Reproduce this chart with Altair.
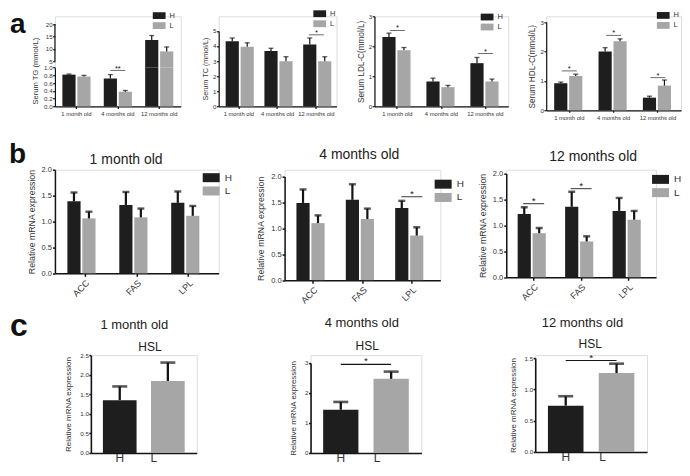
import altair as alt
import pandas as pd

FONT = "Liberation Sans"
H_COLOR = "#1e1e1e"
L_COLOR = "#a6a6a6"
INK = "#141414"
TXT = "#333333"
RECT_A = "M-1.6,-0.85L1.6,-0.85L1.6,0.85L-1.6,0.85Z"
RECT_B = "M-1.7,-0.9L1.7,-0.9L1.7,0.9L-1.7,0.9Z"

groups = ["H", "L"]
ages = ["1 month old", "4 months old", "12 months old"]
genes = ["ACC", "FAS", "LPL"]
letters = ["a", "b", "c"]
panel_titles = ["1 month old", "4 months old", "12 months old"]
hsl_label = ["HSL"]
tg_title = ["Serum TG (mmol/L)"]

# ---------------- a: serum lipids (mean, SEM) ----------------
tg_h = [0.82, 0.72, 13.6]
tg_h_sem = [0.015, 0.10, 1.8]
tg_l = [0.77, 0.38, 9.0]
tg_l_sem = [0.03, 0.03, 1.8]
tg_low_ticks = [0, 0.2, 0.4, 0.6, 0.8, 1.0]
tg_top_ticks = [5, 10, 15, 20]
tg_sig_cat = ["4 months old"]
tg_sig_y = [0.93]
tg_sig_txt = ["**"]

tc_h = [4.31, 3.67, 4.10]
tc_h_sem = [0.22, 0.18, 0.43]
tc_l = [3.95, 2.99, 2.99]
tc_l_sem = [0.26, 0.30, 0.30]
tc_sig_cat = ["12 months old"]
tc_sig_y = [4.74]
tc_sig_txt = ["*"]

ldl_h = [2.31, 0.83, 1.44]
ldl_h_sem = [0.13, 0.11, 0.19]
ldl_l = [1.87, 0.64, 0.83]
ldl_l_sem = [0.09, 0.06, 0.08]
ldl_sig_cat = ["1 month old", "12 months old"]
ldl_sig_y = [2.53, 1.76]
ldl_sig_txt = ["*", "*"]

hdl_h = [0.92, 2.00, 0.43]
hdl_h_sem = [0.04, 0.13, 0.05]
hdl_l = [1.17, 2.35, 0.84]
hdl_l_sem = [0.06, 0.08, 0.19]
hdl_sig_cat = ["1 month old", "4 months old", "12 months old"]
hdl_sig_y = [1.34, 2.55, 1.11]
hdl_sig_txt = ["*", "*", "*"]

# ---------------- b: relative mRNA expression ----------------
m1_h = [1.39, 1.32, 1.36]
m1_h_sem = [0.17, 0.25, 0.22]
m1_l = [1.06, 1.08, 1.11]
m1_l_sem = [0.13, 0.17, 0.19]

m4_h = [1.49, 1.55, 1.39]
m4_h_sem = [0.26, 0.30, 0.14]
m4_l = [1.10, 1.18, 0.86]
m4_l_sem = [0.15, 0.20, 0.16]
m4_sig_cat = ["LPL"]
m4_sig_y = [1.61]

m12_h = [1.22, 1.36, 1.28]
m12_h_sem = [0.13, 0.29, 0.25]
m12_l = [0.85, 0.69, 1.11]
m12_l_sem = [0.10, 0.10, 0.17]
m12_sig_cat = ["ACC", "FAS"]
m12_sig_y = [1.42, 1.71]

b_ticks = [0, 0.5, 1.0, 1.5, 2.0]

# ---------------- c: HSL ----------------
hsl1_mean = [1.35, 1.84]
hsl1_sem = [0.35, 0.47]
hsl4_mean = [1.44, 2.47]
hsl4_sem = [0.26, 0.24]
hsl4_sig = [2.95]
hsl12_mean = [0.74, 1.26]
hsl12_sem = [0.15, 0.15]
hsl12_sig = [1.46]

STY_A = dict(pi=0.32, po=0.18, opi=0.12, ylab=6.2, ytitle=7.6, ylabpad=0.5, ytick=2.3, titlepad=3,
             xlab=5.8, xangle=0, xtick=2, xlabpad=2, dom=1.2, errw=1.2, capw=5, capt=1.3,
             sigw=15, sigt=0.9, sigfs=7.5, sigdy=0, legfs=7.5, legsize=64, legrow=2, legoff=6.4,
             legpath=RECT_A)
STY_B = dict(pi=0.325, po=0.24, opi=0.2, ylab=7.5, ytitle=8.8, ylabpad=1, ytick=2.5, titlepad=5,
             xlab=9, xangle=-45, xtick=3, xlabpad=2, dom=1.5, errw=2.2, capw=7, capt=2.4,
             sigw=21, sigt=1.2, sigfs=10, sigdy=0, legfs=10, legsize=100, legrow=3.3, legoff=8.5,
             legpath=RECT_B)
STY_C = dict(pi=0.3, po=0.25, opi=0.1, ylab=6.2, ytitle=8, ylabpad=0.5, ytick=2, titlepad=7,
             xlab=12, xangle=0, xtick=0, xlabpad=0, dom=1.6, errw=2.3, capw=15, capt=2.6,
             sigw=0, sigt=1.2, sigfs=10, sigdy=0, legfs=10, legsize=100, legrow=0, legoff=5,
             legpath=RECT_B,
             xlaboff={"condition": {"test": "datum.value === 'L'", "value": -14}, "value": 0})


def make_df(cats, h, hs, l, ls):
    d = pd.DataFrame({
        "cat": list(cats) + list(cats),
        "grp": ["H"] * len(cats) + ["L"] * len(cats),
        "mean": list(h) + list(l),
        "sem": list(hs) + list(ls),
    })
    d["upper"] = d["mean"] + d["sem"]
    return d


def sig_frame(cats, levels, labels):
    return pd.DataFrame({"cat": cats, "level": levels, "label": labels})


def color_enc(st, leg):
    sc = alt.Scale(domain=groups, range=[H_COLOR, L_COLOR])
    if leg is None:
        return alt.Color("grp:N", scale=sc, legend=None)
    return alt.Color("grp:N", scale=sc, legend=alt.Legend(
        title=None, orient="none", legendX=leg[0], legendY=leg[1], symbolType=st["legpath"],
        symbolSize=st["legsize"], symbolStrokeWidth=0, symbolOpacity=1,
        labelFontSize=st["legfs"], labelFont=FONT, labelColor=TXT, labelOffset=st["legoff"],
        rowPadding=st["legrow"], padding=0))


def x_enc(field, cats, st):
    ax = dict(title=None, labelAngle=st["xangle"], labelFontSize=st["xlab"], labelFont=FONT,
              labelColor=TXT, ticks=st["xtick"] > 0, tickSize=st["xtick"], tickColor=INK,
              tickWidth=st["dom"], domainColor=INK, domainWidth=st["dom"],
              labelPadding=st["xlabpad"], grid=False)
    if "xlaboff" in st:
        ax["labelOffset"] = st["xlaboff"]
    return alt.X(f"{field}:N", scale=alt.Scale(domain=cats, paddingInner=st["pi"], paddingOuter=st["po"]),
                 axis=alt.Axis(**ax))


def y_enc(field, dom, rng, vals, fmt, title, st, clamp=False, domain_line=True, tsize=None):
    ax = dict(values=vals, format=fmt, title=title, orient="left", grid=False, labelOverlap=False,
              labelFont=FONT, titleFont=FONT, labelFontSize=st["ylab"], titleFontSize=tsize or st["ytitle"],
              titleFontWeight="normal", labelColor=TXT, titleColor=TXT,
              tickSize=st["ytick"], tickWidth=st["dom"], tickColor=INK,
              domain=domain_line, domainColor=INK, domainWidth=st["dom"],
              labelPadding=st["ylabpad"], titlePadding=st["titlepad"])
    return alt.Y(f"{field}:Q", scale=alt.Scale(domain=dom, range=rng, nice=False, zero=False, clamp=clamp),
                 axis=alt.Axis(**ax))


def letter_layer(i, x, y, size):
    return alt.Chart(pd.DataFrame({"t": [letters[i]]})).mark_text(
        fontSize=size, fontWeight="bold", font=FONT, align="left", baseline="alphabetic", color="#111111"
    ).encode(x=alt.value(x), y=alt.value(y), text="t:N")


def title_params(text, fs, offset, dx):
    return alt.TitleParams(text=text, fontSize=fs, font=FONT, fontWeight="normal", color="#222222",
                           anchor="middle", frame="group", offset=offset, dx=dx)


def grouped_panel(df, cats, st, w, h, ydom, yrng, yvals, yfmt, ytitle, leg, sig=None, tsize=None,
                  extra=None, title=None):
    xe = x_enc("cat", cats, st)
    xo = alt.XOffset("grp:N", scale=alt.Scale(domain=groups, paddingInner=st["opi"]))

    def ye(f):
        return y_enc(f, ydom, yrng, yvals, yfmt, ytitle, st, tsize=tsize)

    base = alt.Chart(df)
    layers = [
        base.mark_bar().encode(x=xe, xOffset=xo, y=ye("mean"), color=color_enc(st, leg)),
        base.mark_rule(color=INK, strokeWidth=st["errw"]).encode(x=xe, xOffset=xo, y=ye("mean"), y2="upper:Q"),
        base.mark_tick(color=INK, thickness=st["capt"], size=st["capw"], orient="horizontal").encode(
            x=xe, xOffset=xo, y=ye("upper")),
    ]
    if sig is not None:
        sd = sig_frame(*sig)
        layers.append(alt.Chart(sd).mark_tick(color=INK, thickness=st["sigt"], size=st["sigw"],
                                              orient="horizontal").encode(x=xe, y=ye("level")))
        layers.append(alt.Chart(sd).mark_text(color=INK, fontSize=st["sigfs"], font=FONT, baseline="alphabetic",
                                              dy=st["sigdy"]).encode(x=xe, y=ye("level"), text="label:N"))
    if extra:
        layers += extra
    ch = alt.layer(*layers).properties(width=w, height=h)
    if title is not None:
        ch = ch.properties(title=title)
    return ch


def hsl_panel(mean, sem, st, w, h, ydom, yrng, yvals, yfmt, title, hsl_xy, sig=None, extra=None):
    df = pd.DataFrame({"grp": groups, "mean": mean, "sem": sem})
    df["upper"] = df["mean"] + df["sem"]
    xe = x_enc("grp", groups, st)

    def ye(f):
        return y_enc(f, ydom, yrng, yvals, yfmt, "Relative mRNA expression", st)

    base = alt.Chart(df)
    layers = [
        base.mark_bar().encode(x=xe, y=ye("mean"), color=color_enc(st, None)),
        base.mark_rule(color=INK, strokeWidth=st["errw"]).encode(x=xe, y=ye("mean"), y2="upper:Q"),
        base.mark_tick(color=INK, thickness=st["capt"], size=st["capw"], orient="horizontal").encode(
            x=xe, y=ye("upper")),
        alt.Chart(pd.DataFrame({"t": hsl_label})).mark_text(
            fontSize=12, font=FONT, color="#222222", align="center", baseline="alphabetic"
        ).encode(x=alt.value(hsl_xy[0]), y=alt.value(hsl_xy[1]), text="t:N"),
    ]
    if sig is not None:
        sd = pd.DataFrame({"a": [groups[0]], "b": [groups[1]], "level": sig, "label": ["*"]})
        step = w / (2 - st["pi"] + 2 * st["po"])
        xs = alt.X("a:N", scale=alt.Scale(domain=groups, paddingInner=st["pi"], paddingOuter=st["po"]))
        layers.append(alt.Chart(sd).mark_rule(color=INK, strokeWidth=st["sigt"]).encode(
            x=xs, x2="b:N", y=ye("level")))
        layers.append(alt.Chart(sd).mark_text(color=INK, fontSize=st["sigfs"], font=FONT, baseline="alphabetic",
                                              dx=step / 2, dy=st["sigdy"]).encode(
            x=xs, y=ye("level"), text="label:N"))
    if extra:
        layers += extra
    return alt.layer(*layers).properties(width=w, height=h, title=title)


# ---------------- row a ----------------
A_H = 90.2
tg = make_df(ages, tg_h, tg_h_sem, tg_l, tg_l_sem)
xe_a = x_enc("cat", ages, STY_A)
xo_a = alt.XOffset("grp:N", scale=alt.Scale(domain=groups, paddingInner=STY_A["opi"]))
col_a1 = color_enc(STY_A, (100.4, -4.7))


def low_y(f):
    return y_enc(f, [0, 1], [A_H, 51.4], tg_low_ticks, ".1f", None, STY_A, clamp=True)


def top_y(f):
    return y_enc(f, [2.467, 20], [51.4, 7.8], tg_top_ticks, "d", None, STY_A, clamp=True, domain_line=False)


tg_base = alt.Chart(tg)
tg_sig = sig_frame(tg_sig_cat, tg_sig_y, tg_sig_txt)
low = alt.layer(
    tg_base.mark_bar().encode(x=xe_a, xOffset=xo_a, y=low_y("mean"), color=col_a1),
    tg_base.transform_filter("datum.upper <= 1").mark_rule(color=INK, strokeWidth=STY_A["errw"]).encode(
        x=xe_a, xOffset=xo_a, y=low_y("mean"), y2="upper:Q"),
    tg_base.transform_filter("datum.upper <= 1").mark_tick(
        color=INK, thickness=STY_A["capt"], size=STY_A["capw"], orient="horizontal").encode(
        x=xe_a, xOffset=xo_a, y=low_y("upper")),
    alt.Chart(tg_sig).mark_tick(color=INK, thickness=STY_A["sigt"], size=STY_A["sigw"], orient="horizontal").encode(
        x=xe_a, y=low_y("level")),
    alt.Chart(tg_sig).mark_text(color=INK, fontSize=STY_A["sigfs"], font=FONT, baseline="alphabetic", dy=1).encode(
        x=xe_a, y=low_y("level"), text="label:N"),
    letter_layer(0, -45, 17, 28),
    alt.Chart(pd.DataFrame({"t": tg_title})).mark_text(
        fontSize=STY_A["ytitle"], font=FONT, color=TXT, angle=270, align="center", baseline="middle"
    ).encode(x=alt.value(-18.6), y=alt.value(54.8), text="t:N"),
)
seg = pd.DataFrame({"lo": [tg_top_ticks[0]], "hi": [tg_top_ticks[-1]]})
top = alt.layer(
    tg_base.transform_filter("datum.mean > 1").mark_bar().encode(x=xe_a, xOffset=xo_a, y=top_y("mean"),
                                                                 color=col_a1),
    tg_base.transform_filter("datum.upper > 1").mark_rule(color=INK, strokeWidth=STY_A["errw"]).encode(
        x=xe_a, xOffset=xo_a, y=top_y("mean"), y2="upper:Q"),
    tg_base.transform_filter("datum.upper > 1").mark_tick(
        color=INK, thickness=STY_A["capt"], size=STY_A["capw"], orient="horizontal").encode(
        x=xe_a, xOffset=xo_a, y=top_y("upper")),
    alt.Chart(seg).mark_rule(color=INK, strokeWidth=STY_A["dom"]).encode(x=alt.value(0), y=top_y("lo"), y2="hi:Q"),
)
a1 = alt.layer(low, top).resolve_scale(y="independent").properties(width=126, height=A_H)

a2 = grouped_panel(make_df(ages, tc_h, tc_h_sem, tc_l, tc_l_sem), ages, STY_A, 118, A_H, [0, 5], [A_H, 14.6],
                   [0, 1, 2, 3, 4, 5], "d", "Serum TC (mmol/L)", (97.2, -6.6),
                   sig=(tc_sig_cat, tc_sig_y, tc_sig_txt), tsize=7.2)
a3 = grouped_panel(make_df(ages, ldl_h, ldl_h_sem, ldl_l, ldl_l_sem), ages, STY_A, 134, A_H, [0, 3], [A_H, 0],
                   [0, 1, 2, 3], "d", "Serum LDL-C(mmol/L)", (108.8, -3.3),
                   sig=(ldl_sig_cat, ldl_sig_y, ldl_sig_txt), tsize=8.2)
a4 = grouped_panel(make_df(ages, hdl_h, hdl_h_sem, hdl_l, hdl_l_sem), ages, STY_A, 135, 94.1, [0, 3], [94.1, 5.8],
                   [0, 1, 2, 3], "d", "Serum HDL-C(mmol/L)", (113.2, -4.9),
                   sig=(hdl_sig_cat, hdl_sig_y, hdl_sig_txt), tsize=8.2)

row_a = alt.hconcat(a1, a2, a3, a4, spacing=38, bounds="flush").resolve_scale(color="independent")

# ---------------- row b ----------------
b1 = grouped_panel(make_df(genes, m1_h, m1_h_sem, m1_l, m1_l_sem), genes, STY_B, 164, 103.8, [0, 2],
                   [103.8, 0], b_ticks, ".1f", "Relative mRNA expression", (151.5, 3),
                   extra=[letter_layer(1, -46, -6.8, 28)],
                   title=title_params(panel_titles[0], 14, -26.3, -10.7))
b2 = grouped_panel(make_df(genes, m4_h, m4_h_sem, m4_l, m4_l_sem), genes, STY_B, 156, 110.6, [0, 2],
                   [110.6, 6.8], b_ticks, ".1f", "Relative mRNA expression", (153.8, 9.5),
                   sig=(m4_sig_cat, m4_sig_y, ["*"]),
                   title=title_params(panel_titles[1], 14, 8.2, -3.2))
b3 = grouped_panel(make_df(genes, m12_h, m12_h_sem, m12_l, m12_l_sem), genes, STY_B, 150, 107.7, [0, 2],
                   [107.7, 3.9], b_ticks, ".1f", "Relative mRNA expression", (149.5, 4.7),
                   sig=(m12_sig_cat, m12_sig_y, ["*", "*"]),
                   title=title_params(panel_titles[2], 14, 5.9, 12))
row_b = alt.hconcat(b1, b2, b3, spacing=66, bounds="flush").resolve_scale(color="independent")

# ---------------- row c ----------------
c1 = hsl_panel(hsl1_mean, hsl1_sem, STY_C, 106, 98, [0, 2.5], [98, 0], [0, 0.5, 1.0, 1.5, 2.0, 2.5], ".1f",
               title_params(panel_titles[0], 13, -22.0, -9.5), (59.1, -3.8),
               extra=[letter_layer(2, -81, -19.4, 32)])
c2 = hsl_panel(hsl4_mean, hsl4_sem, STY_C, 111, 98, [0, 3], [98, 7.8], [0, 1, 2, 3], "d",
               title_params(panel_titles[1], 13, 10.6, -4.2), (56.7, -4.8), sig=hsl4_sig)
c3 = hsl_panel(hsl12_mean, hsl12_sem, STY_C, 112, 97, [0, 1.5], [97, 2.9], [0, 0.5, 1.0, 1.5], ".1f",
               title_params(panel_titles[2], 13, 8.7, -8.7), (55.1, -6.7), sig=hsl12_sig)
spacer = alt.Chart(pd.DataFrame({"t": [""]})).mark_text(opacity=0).encode(
    x=alt.value(0), y=alt.value(0), text="t:N"
).properties(width=36, height=1, view=alt.ViewBackground(stroke=None, fill=None, strokeWidth=0))
row_c = alt.hconcat(
    spacer,
    alt.hconcat(c1, c2, c3, spacing=114, bounds="flush").resolve_scale(color="independent"),
    spacing=0, bounds="flush",
)

chart = alt.vconcat(row_a, alt.vconcat(row_b, row_c, spacing=3.7), spacing=18.6).properties(
    padding=0
).configure_view(stroke=None).configure(font=FONT)

chart.save("out.html", embed_options={"renderer": "svg", "actions": False})
